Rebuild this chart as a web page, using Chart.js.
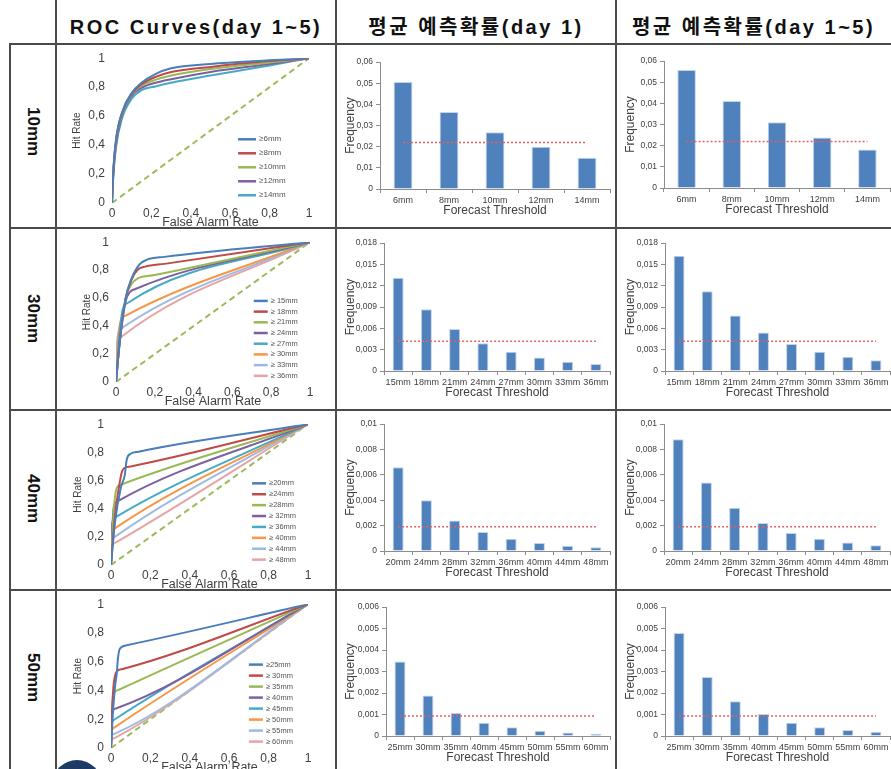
<!DOCTYPE html>
<html>
<head>
<meta charset="utf-8">
<script src="https://cdn.jsdelivr.net/npm/chart.js@4"></script>
<style>
  body { margin: 0; background: #fff; }
  #page { position: relative; width: 891px; height: 769px; overflow: hidden; background: #fff; }
  .hl, .vl { position: absolute; background: #4a4a4a; }
  .head { position: absolute; top: 12px; height: 30px; line-height: 30px; text-align: center;
          font-family: "Liberation Sans", "Noto Sans CJK KR", sans-serif; font-weight: bold; font-size: 20px;
          letter-spacing: 2.5px; color: #111; white-space: nowrap; }
  .rowlab { position: absolute; left: 10px; width: 46px; display: flex; align-items: center; justify-content: center;
            font-family: "Liberation Sans", sans-serif; font-weight: bold; font-size: 17px; color: #111; }
  .rowlab span { writing-mode: vertical-rl; }
  canvas { position: absolute; }
</style>
</head>
<body>
<div id="page">
  <div class="head" style="left:56px;width:280px">ROC Curves(day 1~5)</div>
  <div class="head" style="left:336px;width:280px">평균 예측확률(day 1)</div>
  <div class="head" style="left:616px;width:275px">평균 예측확률(day 1~5)</div>

  <div class="rowlab" style="top:44px;height:176px"><span>10mm</span></div>
  <div class="rowlab" style="top:228px;height:182px"><span>30mm</span></div>
  <div class="rowlab" style="top:410px;height:178px"><span>40mm</span></div>
  <div class="rowlab" style="top:590px;height:176px"><span>50mm</span></div>

  <div style="position:absolute;left:52px;top:760px;width:50px;height:50px;border-radius:50%;background:#1d3b66"></div>
</div>

<script>
// ---------- data ----------
const rocTickLabels = ['0', '0,2', '0,4', '0,6', '0,8', '1'];
const rocChance = [[0, 0], [1, 1]];

const roc10Labels = ['≥6mm', '≥8mm', '≥10mm', '≥12mm', '≥14mm'];
const roc10Curves = [
  [[0,0],[0.005,0.18],[0.02,0.43],[0.05,0.62],[0.1,0.76],[0.15,0.83],[0.22,0.89],[0.3,0.93],[0.5,0.96],[0.8,0.985],[1,1]],
  [[0,0],[0.005,0.18],[0.02,0.43],[0.05,0.62],[0.1,0.755],[0.15,0.82],[0.22,0.87],[0.3,0.905],[0.5,0.94],[0.8,0.98],[1,1]],
  [[0,0],[0.005,0.17],[0.02,0.42],[0.05,0.61],[0.1,0.75],[0.15,0.81],[0.22,0.85],[0.3,0.88],[0.5,0.925],[0.8,0.97],[1,1]],
  [[0,0],[0.005,0.16],[0.02,0.4],[0.05,0.6],[0.1,0.74],[0.15,0.795],[0.22,0.83],[0.3,0.855],[0.5,0.905],[0.8,0.96],[1,1]],
  [[0,0],[0.005,0.15],[0.02,0.38],[0.05,0.58],[0.1,0.72],[0.15,0.78],[0.22,0.805],[0.3,0.83],[0.5,0.88],[0.8,0.95],[1,1]]
];

const roc30Labels = ['≥ 15mm', '≥ 18mm', '≥ 21mm', '≥ 24mm', '≥ 27mm', '≥ 30mm', '≥ 33mm', '≥ 36mm'];
const roc30Curves = [
  [[0,0],[0.02,0.3],[0.05,0.6],[0.08,0.74],[0.12,0.84],[0.16,0.875],[0.25,0.895],[1,1]],
  [[0,0],[0.02,0.3],[0.05,0.6],[0.08,0.73],[0.11,0.8],[0.15,0.825],[0.25,0.845],[1,1]],
  [[0,0],[0.02,0.3],[0.05,0.6],[0.08,0.7],[0.11,0.74],[0.2,0.765],[1,1]],
  [[0,0],[0.02,0.3],[0.05,0.58],[0.07,0.64],[0.1,0.665],[1,1]],
  [[0,0],[0.015,0.3],[0.035,0.52],[0.06,0.565],[1,1]],
  [[0,0],[0.01,0.3],[0.025,0.44],[0.05,0.475],[1,1]],
  [[0,0],[0.005,0.28],[0.02,0.37],[0.04,0.395],[1,1]],
  [[0,0],[0.005,0.25],[0.02,0.31],[0.03,0.325],[1,1]]
];

const roc40Labels = ['≥20mm', '≥24mm', '≥28mm', '≥ 32mm', '≥ 36mm', '≥ 40mm', '≥ 44mm', '≥ 48mm'];
const roc40Curves = [
  [[0,0],[0.02,0.3],[0.05,0.55],[0.07,0.64],[0.08,0.75],[0.1,0.79],[0.14,0.805],[1,1]],
  [[0,0],[0.02,0.35],[0.04,0.55],[0.055,0.66],[0.07,0.69],[0.1,0.7],[1,1]],
  [[0,0],[0.01,0.3],[0.02,0.48],[0.03,0.55],[0.05,0.57],[1,1]],
  [[0,0],[0.008,0.3],[0.015,0.42],[0.03,0.45],[1,1]],
  [[0,0],[0.005,0.28],[0.015,0.33],[0.03,0.345],[1,1]],
  [[0,0],[0.004,0.2],[0.012,0.25],[0.025,0.265],[1,1]],
  [[0,0],[0.004,0.15],[0.012,0.19],[0.025,0.205],[1,1]],
  [[0,0],[0.004,0.12],[0.012,0.15],[0.025,0.16],[1,1]]
];

const roc50Labels = ['≥25mm', '≥ 30mm', '≥ 35mm', '≥ 40mm', '≥ 45mm', '≥ 50mm', '≥ 55mm', '≥ 60mm'];
const roc50Curves = [
  [[0,0],[0.01,0.25],[0.02,0.42],[0.03,0.53],[0.035,0.62],[0.045,0.69],[0.08,0.715],[1,1]],
  [[0,0],[0.005,0.25],[0.012,0.42],[0.02,0.5],[0.03,0.535],[0.06,0.55],[1,1]],
  [[0,0],[0.005,0.25],[0.01,0.35],[0.02,0.39],[0.04,0.405],[1,1]],
  [[0,0],[0.004,0.2],[0.01,0.26],[0.025,0.275],[1,1]],
  [[0,0],[0.003,0.15],[0.01,0.19],[0.02,0.2],[1,1]],
  [[0,0],[0.003,0.1],[0.01,0.135],[0.02,0.145],[1,1]],
  [[0,0],[0.003,0.07],[0.01,0.095],[0.02,0.1],[1,1]],
  [[0,0],[0.003,0.05],[0.01,0.065],[0.02,0.07],[1,1]]
];

const th10 = ['6mm', '8mm', '10mm', '12mm', '14mm'];
const freq10Day1 = [0.0505, 0.0364, 0.0268, 0.0200, 0.0148];
const freq10Day15 = [0.0557, 0.0411, 0.0311, 0.0238, 0.0182];
const clim10 = 0.022;
const yTicks10 = ['0', '0,01', '0,02', '0,03', '0,04', '0,05', '0,06'];

const th30 = ['15mm', '18mm', '21mm', '24mm', '27mm', '30mm', '33mm', '36mm'];
const freq30Day1 = [0.0131, 0.0087, 0.0059, 0.0039, 0.0027, 0.0019, 0.0013, 0.0010];
const freq30Day15 = [0.0162, 0.0112, 0.0078, 0.0054, 0.0038, 0.0027, 0.0020, 0.0015];
const clim30 = 0.0042;
const yTicks30 = ['0', '0,003', '0,006', '0,009', '0,012', '0,015', '0,018'];

const th40 = ['20mm', '24mm', '28mm', '32mm', '36mm', '40mm', '44mm', '48mm'];
const freq40Day1 = [0.0066, 0.0040, 0.0024, 0.0015, 0.00097, 0.00063, 0.00042, 0.00029];
const freq40Day15 = [0.0088, 0.0054, 0.0034, 0.0022, 0.00142, 0.00097, 0.00066, 0.00045];
const clim40 = 0.0019;
const yTicks40 = ['0', '0,002', '0,004', '0,006', '0,008', '0,01'];

const th50 = ['25mm', '30mm', '35mm', '40mm', '45mm', '50mm', '55mm', '60mm'];
const freq50Day1 = [0.00347, 0.00188, 0.00107, 0.00062, 0.00041, 0.00025, 0.00016, 0.0001];
const freq50Day15 = [0.00479, 0.00274, 0.00162, 0.00102, 0.00062, 0.00041, 0.00028, 0.0002];
const clim50 = 0.00093;
const yTicks50 = ['0', '0,001', '0,002', '0,003', '0,004', '0,005', '0,006'];

const rocColors = ['#4A7EBB', '#BE4B48', '#98B954', '#7D60A0', '#46AAC5', '#F79646', '#9DBBE0', '#E6A5A4'];
const FONT = '"Liberation Sans", Arial, sans-serif';

// ---------- page frame ----------
const page = document.getElementById('page');
function line(cls, x, y, w, h) {
  const d = document.createElement('div');
  d.className = cls;
  Object.assign(d.style, { left: x + 'px', top: y + 'px', width: w + 'px', height: h + 'px' });
  page.appendChild(d);
}
[44, 228, 410, 590].forEach(y => line('hl', 10, y - 1, 881, 2));
line('vl', 9, 43, 2, 726);
[56, 336, 616].forEach(x => line('vl', x - 1, 0, 2, 769));

function canvasAt(x, y, w, h) {
  const c = document.createElement('canvas');
  c.width = w; c.height = h;
  c.style.left = x + 'px'; c.style.top = y + 'px';
  page.insertBefore(c, page.firstChild);
  return c;
}

// legend drawn inside the plot area, like the original
const rocLegend = {
  id: 'rocLegend',
  afterDatasetsDraw(chart, args, o) {
    const { ctx, chartArea: a } = chart;
    const x0 = a.left + o.x * (a.right - a.left);
    let y = a.top + o.y * (a.bottom - a.top);
    ctx.save();
    ctx.font = o.size + 'px ' + FONT;
    ctx.textBaseline = 'middle';
    chart.data.datasets.forEach(ds => {
      if (!ds.label) return;
      ctx.strokeStyle = ds.borderColor;
      ctx.lineWidth = 2.5;
      ctx.beginPath(); ctx.moveTo(x0, y); ctx.lineTo(x0 + o.len, y); ctx.stroke();
      ctx.fillStyle = '#555';
      ctx.fillText(ds.label, x0 + o.len + 3, y);
      y += o.gap;
    });
    ctx.restore();
  }
};

function rocChart(labels, curves, g) {
  const W = 280;
  const c = canvasAt(56, g.top, W, g.h);
  const datasets = curves.map((pts, i) => ({
    label: labels[i],
    data: pts.map(p => ({ x: p[0], y: p[1] })),
    borderColor: rocColors[i], borderWidth: 2, pointRadius: 0,
    cubicInterpolationMode: 'monotone', fill: false
  }));
  datasets.push({
    label: '', data: rocChance.map(p => ({ x: p[0], y: p[1] })),
    borderColor: '#9BBB59', borderWidth: 2, borderDash: [6, 4], pointRadius: 0
  });
  const XH = 27;
  return new Chart(c, {
    type: 'line',
    data: { datasets },
    plugins: [rocLegend],
    options: {
      responsive: false, animation: false,
      layout: { padding: { left: 0, top: g.T, right: W - g.R, bottom: g.h - g.B - XH } },
      plugins: { legend: { display: false }, tooltip: { enabled: false },
        rocLegend: { x: g.lx, y: g.ly, gap: g.gap, len: g.len, size: g.fs } },
      scales: {
        x: {
          type: 'linear', min: 0, max: 1,
          ticks: { stepSize: 0.2, callback: (v, i) => rocTickLabels[i], font: { size: 12, family: FONT }, color: '#404040', padding: 3, maxRotation: 0 },
          grid: { display: false, drawTicks: false }, border: { display: false },
          title: { display: true, text: 'False Alarm Rate', font: { size: 12.5, family: FONT }, color: '#404040', padding: 0 },
          afterFit: s => { s.height = XH; }
        },
        y: {
          type: 'linear', min: 0, max: 1,
          ticks: { stepSize: 0.2, callback: (v, i) => rocTickLabels[i], font: { size: 12, family: FONT }, color: '#404040', padding: 7 },
          grid: { display: false, drawTicks: false }, border: { display: false },
          title: { display: true, text: 'Hit Rate', font: { size: 10, family: FONT }, color: '#404040', padding: { top: g.ht - 6, bottom: 0 } },
          afterFit: s => { s.width = g.R0; }
        }
      }
    }
  });
}

function barChart(x, W, labels, values, clim, yMax, yStep, yLabels, g) {
  const c = canvasAt(x, g.top, W, g.h);
  const XH = 29;
  const axisCol = '#8c8c8c';
  return new Chart(c, {
    type: 'bar',
    data: {
      labels,
      datasets: [
        { type: 'line', data: labels.map(() => clim), borderColor: '#E0615E', borderWidth: 1.5,
          borderDash: [2, 2], pointRadius: 0, order: 0 },
        { type: 'bar', data: values, backgroundColor: '#4F81BD', borderColor: '#C3D3EA', borderWidth: 1,
          barPercentage: g.bp, categoryPercentage: 1, order: 1 }
      ]
    },
    options: {
      responsive: false, animation: false,
      layout: { padding: { left: 0, top: g.T, right: W - g.R, bottom: g.h - g.B - XH } },
      plugins: { legend: { display: false }, tooltip: { enabled: false } },
      scales: {
        x: {
          ticks: { font: { size: 9, family: FONT }, color: '#404040', padding: 2, maxRotation: 0, autoSkip: false },
          grid: { display: true, drawOnChartArea: false, tickLength: 4, color: axisCol, offset: true },
          border: { display: true, color: axisCol },
          title: { display: true, text: 'Forecast Threshold', font: { size: 12, family: FONT }, color: '#404040', padding: 0 },
          afterFit: s => { s.height = XH; }
        },
        y: {
          min: 0, max: yMax,
          ticks: { stepSize: yStep, callback: (v, i) => yLabels[i] ?? '', font: { size: 8.5, family: FONT }, color: '#404040', padding: 3 },
          grid: { display: true, drawOnChartArea: false, tickLength: 4, color: axisCol },
          border: { display: true, color: axisCol },
          title: { display: true, text: 'Frequency', font: { size: 12, family: FONT }, color: '#404040', padding: { top: 7, bottom: 0 } },
          afterFit: s => { s.width = g.L; }
        }
      }
    }
  });
}

// ---------- ROC column ----------
rocChart(roc10Labels, roc10Curves, { top: 44, h: 184, R0: 56, R: 253, T: 10, B: 159, ht: 21, lx: 0.64, ly: 0.56, gap: 14, len: 18, fs: 8 });
rocChart(roc30Labels, roc30Curves, { top: 228, h: 182, R0: 60, R: 254, T: 6, B: 154, ht: 31, lx: 0.71, ly: 0.42, gap: 10.7, len: 14, fs: 7.5 });
rocChart(roc40Labels, roc40Curves, { top: 410, h: 180, R0: 55, R: 252, T: 5, B: 155, ht: 22, lx: 0.716, ly: 0.42, gap: 10.9, len: 14, fs: 7.5 });
rocChart(roc50Labels, roc50Curves, { top: 590, h: 200, R0: 55, R: 252, T: 9, B: 158, ht: 22, lx: 0.70, ly: 0.42, gap: 11, len: 14, fs: 7.5 });

// ---------- day 1 column ----------
barChart(336, 280, th10, freq10Day1, clim10, 0.06, 0.01, yTicks10, { top: 44, h: 184, L: 44, R: 274, T: 18, B: 145, bp: 0.41 });
barChart(336, 280, th30, freq30Day1, clim30, 0.018, 0.003, yTicks30, { top: 228, h: 182, L: 48, R: 274, T: 15, B: 143, bp: 0.39 });
barChart(336, 280, th40, freq40Day1, clim40, 0.01, 0.002, yTicks40, { top: 410, h: 180, L: 48, R: 274, T: 14, B: 141, bp: 0.39 });
barChart(336, 280, th50, freq50Day1, clim50, 0.006, 0.001, yTicks50, { top: 590, h: 200, L: 50, R: 274, T: 17, B: 146, bp: 0.39 });

// ---------- day 1~5 column ----------
barChart(616, 275, th10, freq10Day15, clim10, 0.06, 0.01, yTicks10, { top: 44, h: 184, L: 48, R: 274, T: 17, B: 144, bp: 0.41 });
barChart(616, 275, th30, freq30Day15, clim30, 0.018, 0.003, yTicks30, { top: 228, h: 182, L: 49, R: 274, T: 15, B: 143, bp: 0.39 });
barChart(616, 275, th40, freq40Day15, clim40, 0.01, 0.002, yTicks40, { top: 410, h: 180, L: 48, R: 274, T: 14, B: 141, bp: 0.39 });
barChart(616, 275, th50, freq50Day15, clim50, 0.006, 0.001, yTicks50, { top: 590, h: 200, L: 49, R: 274, T: 17, B: 146, bp: 0.39 });
</script>
</body>
</html>
